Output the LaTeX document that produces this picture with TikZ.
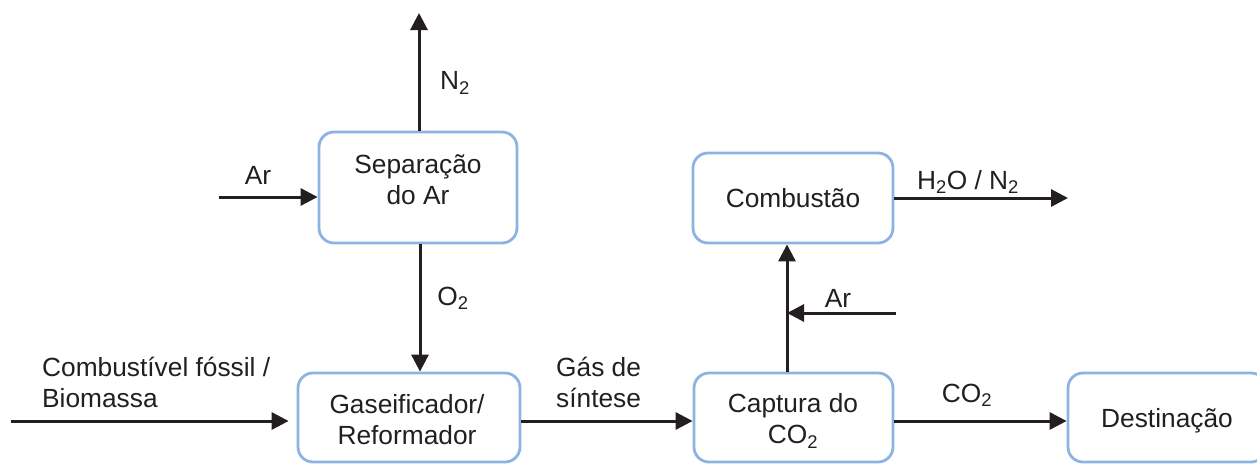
\documentclass[tikz,border=0pt]{standalone}
\usepackage{fontspec}
\setmainfont{Liberation Sans}
\usetikzlibrary{arrows.meta}
\definecolor{boxblue}{HTML}{8DB3E2}
\definecolor{ink}{HTML}{231F20}
\begin{document}
\begin{tikzpicture}[x=1pt,y=-1pt,
  font=\fontsize{26.3}{31}\selectfont,
  every node/.style={text=ink, inner sep=0pt},
  procbox/.style={draw=boxblue, line width=2.8pt, rounded corners=15pt, align=center, fill=white},
  flow/.style={draw=ink, line width=3pt, -{Triangle[width=17pt,length=17pt]}},
  lbl/.style={align=left}
]
\useasboundingbox (0,0) rectangle (1257,464);
\clip (0,0) rectangle (1257,464);

% boxes
\node[procbox, minimum width=198pt, minimum height=111pt] (sep) at (418,187.5) {};
\node[align=center] (septxt) at (418,180) {Separação\\do Ar};
\node[procbox, minimum width=200pt, minimum height=90pt] (comb) at (793,198) {Combustão};
\node[procbox, minimum width=222pt, minimum height=89pt] (gas) at (409,417.5) {};
\node[align=center] (gastxt) at (407,420) {Gaseificador/\\Reformador};
\node[procbox, minimum width=199pt, minimum height=89pt] (cap) at (793.5,417.5) {};
\node[align=center] (captxt) at (793,421) {Captura do\\CO\textsubscript{2}};
\node[procbox, minimum width=198pt, minimum height=89pt] (dest) at (1167,417.5) {};
\node (desttxt) at (1167,421) {Destinação};

% free ends
\coordinate (arin) at (219,197);
\coordinate (n2top) at (419,13);
\coordinate (fuel) at (11,421);
\coordinate (h2o) at (1068,198);
\coordinate (ar2) at (896,313);
\coordinate (jn) at (787,313);

% connectors
\draw[flow] (arin) -- (arin -| sep.west);
\draw[flow] ([xshift=1pt]sep.north) -- (n2top);
\draw[flow] ([xshift=2pt]sep.south) -- ([xshift=2pt]sep.south |- gas.north);
\draw[flow, shorten >=8pt] (fuel) -- (fuel -| gas.west);
\draw[flow] ([yshift=-3.5pt]gas.east) -- ([yshift=-3.5pt]gas.east -| cap.west);
\draw[flow] ([yshift=-3.5pt]cap.east) -- ([yshift=-3.5pt]cap.east -| dest.west);
\draw[flow] ([xshift=-6.5pt]cap.north) -- ([xshift=-6.5pt]cap.north |- comb.south);
\draw[flow] (ar2) -- (jn);
\draw[flow] (comb.east) -- (h2o);

% labels
\node (lN2) at (455,83) {N\textsubscript{2}};
\node (lAr1) at (258,175) {Ar};
\node (lO2) at (453,298) {O\textsubscript{2}};
\node (lAr2) at (838,298) {Ar};
\node (lH2O) at (968,182) {H\textsubscript{2}O / N\textsubscript{2}};
\node (lCO2) at (967,395) {CO\textsubscript{2}};
\node[lbl, anchor=west] (lfuel) at (42,382) {Combustível fóssil /\\Biomassa};
\node[lbl, anchor=west] (lgas) at (556,382) {Gás de\\síntese};
\end{tikzpicture}
\end{document}
